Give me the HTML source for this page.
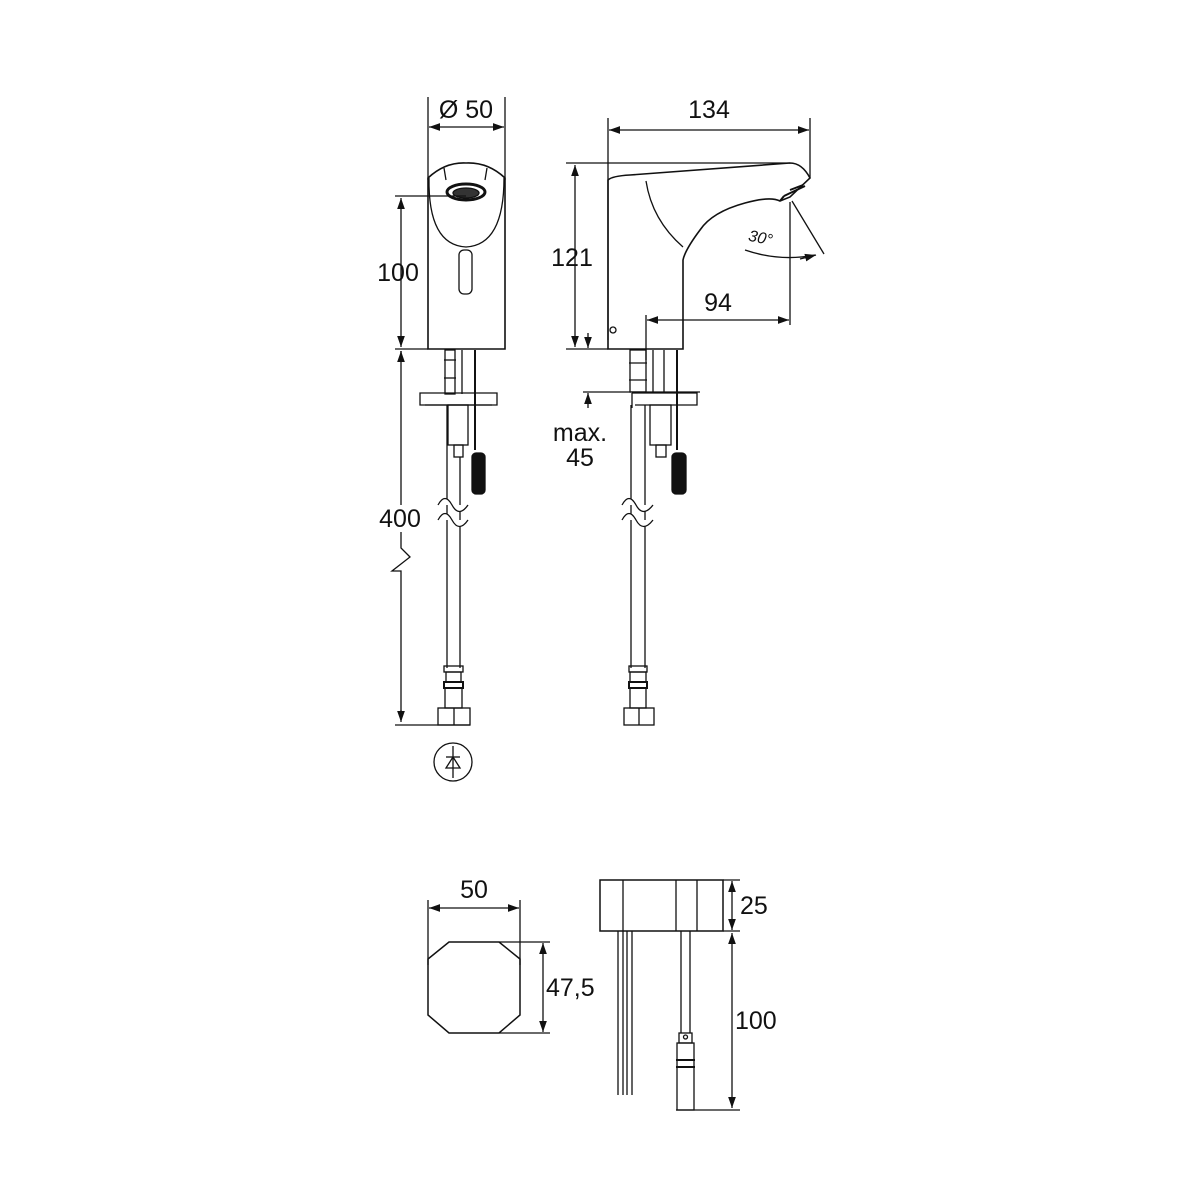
<!DOCTYPE html>
<html><head><meta charset="utf-8"><style>
html,body{margin:0;padding:0;background:#fff}
svg{display:block}
text{font-family:"Liberation Sans",sans-serif;fill:#111}
</style></head><body>
<svg width="1200" height="1200" viewBox="0 0 1200 1200" xmlns="http://www.w3.org/2000/svg">
<defs>
<marker id="a" viewBox="0 0 10 10" refX="10" refY="5" markerWidth="11" markerHeight="11" orient="auto-start-reverse" markerUnits="userSpaceOnUse"><path d="M0,1.5 L10,5 L0,8.5z" fill="#111"/></marker>
</defs>
<g stroke="#111" stroke-width="1.3" fill="none">
<!-- FRONT VIEW -->
<line x1="428" y1="97" x2="428" y2="180"/><line x1="505" y1="97" x2="505" y2="180"/>
<line x1="429" y1="127" x2="504" y2="127" marker-start="url(#a)" marker-end="url(#a)"/>
<path d="M428,349 L428,178 Q445,162 466,163 Q488,162 505,178 L505,349 Z" stroke-width="1.6"/>
<path d="M429,178 Q428,245 466,247 Q504,245 504,178"/>
<path d="M444,168 L446,180 M487,168 L485,180"/>
<ellipse cx="466" cy="192" rx="19" ry="8" stroke-width="3"/>
<ellipse cx="466" cy="193" rx="13" ry="5" fill="#333"/>
<rect x="459" y="250" width="13" height="44" rx="5"/>
<line x1="395" y1="196" x2="466" y2="196"/>
<line x1="395" y1="349" x2="428" y2="349"/>
<line x1="401" y1="198" x2="401" y2="347" marker-start="url(#a)" marker-end="url(#a)"/>
<path d="M401,351 L401,505 M401,532 L401,548 L410,557 L392,571 L401,571 L401,720" />
<line x1="401" y1="362" x2="401" y2="351" marker-end="url(#a)"/>
<line x1="401" y1="710" x2="401" y2="722" marker-end="url(#a)"/>
<line x1="395" y1="725" x2="470" y2="725"/>
<!-- pipes under front -->
<rect x="445" y="350" width="10" height="44"/>
<line x1="444" y1="360" x2="456" y2="360"/><line x1="444" y1="378" x2="456" y2="378"/>
<line x1="462" y1="350" x2="462" y2="394"/><line x1="475" y1="350" x2="475" y2="450" stroke-width="2"/>
<path d="M420,393 L497,393 L497,405 L420,405 Z"/>
<line x1="425" y1="405" x2="492" y2="405"/>
<rect x="448" y="405" width="20" height="40"/>
<rect x="454" y="445" width="9" height="12"/>
<rect x="472" y="453" width="13" height="41" rx="4" fill="#111"/>
<line x1="447" y1="405" x2="447" y2="668"/><line x1="460" y1="457" x2="460" y2="668"/>
<path d="M438,505 Q445,492 452,505 Q459,518 468,505 M438,520 Q445,507 452,520 Q459,533 468,520" fill="#fff"/>
<rect x="444" y="666" width="19" height="6"/>
<rect x="446" y="672" width="15" height="10"/>
<rect x="444" y="682" width="19" height="6" stroke-width="2"/>
<rect x="445" y="688" width="17" height="20"/>
<rect x="438" y="708" width="32" height="17"/><line x1="454" y1="708" x2="454" y2="725"/>
<circle cx="453" cy="762" r="19"/>
<line x1="453" y1="746" x2="453" y2="778"/>
<line x1="446" y1="757" x2="460" y2="757"/>
<path d="M446,768 L460,768 L453,757 Z"/>

<!-- SIDE VIEW -->
<line x1="608" y1="118" x2="608" y2="340"/><line x1="810" y1="118" x2="810" y2="178"/>
<line x1="609" y1="130" x2="809" y2="130" marker-start="url(#a)" marker-end="url(#a)"/>
<path d="M608,349 L608,180 Q612,176 630,175 L790,163 Q802,163 810,178 L790,197 L780,201 Q770,196 745,203 Q712,212 700,230 Q685,250 683,260 L683,349 Z" stroke-width="1.6"/>
<path d="M646,181 Q652,220 683,247"/>
<path d="M780,201 L784,196 M790,190 L803,185 M784,196 L805,186" stroke-width="2"/>
<line x1="566" y1="163" x2="790" y2="163"/>
<line x1="575" y1="165" x2="575" y2="347" marker-start="url(#a)" marker-end="url(#a)"/>
<line x1="566" y1="349" x2="608" y2="349"/>
<circle cx="613" cy="330" r="3"/>
<line x1="790" y1="202" x2="790" y2="325"/>
<line x1="646" y1="315" x2="646" y2="360"/>
<line x1="647" y1="320" x2="789" y2="320" marker-start="url(#a)" marker-end="url(#a)"/>
<line x1="792" y1="201" x2="824" y2="254"/>
<path d="M745,250 Q780,262 815,255" />
<line x1="800" y1="259" x2="816" y2="255" marker-end="url(#a)"/>
<line x1="588" y1="333" x2="588" y2="348" marker-end="url(#a)"/>
<line x1="588" y1="408" x2="588" y2="393" marker-end="url(#a)"/>
<line x1="583" y1="392" x2="700" y2="392"/>
<!-- side pipes -->
<rect x="630" y="350" width="16" height="42"/>
<line x1="629" y1="363" x2="647" y2="363"/><line x1="629" y1="380" x2="647" y2="380"/>
<line x1="653" y1="350" x2="653" y2="392"/><line x1="664" y1="350" x2="664" y2="392"/>
<line x1="677" y1="350" x2="677" y2="450" stroke-width="2"/>
<path d="M632,393 L697,393 L697,405 L635,405 M632,393 L632,408"/>
<rect x="650" y="405" width="21" height="40"/>
<rect x="656" y="445" width="10" height="12"/>
<rect x="672" y="453" width="14" height="41" rx="4" fill="#111"/>
<line x1="631" y1="405" x2="631" y2="668"/><line x1="645" y1="405" x2="645" y2="668"/>
<path d="M622,505 Q629,492 636,505 Q643,518 653,505 M622,520 Q629,507 636,520 Q643,533 653,520" fill="#fff"/>
<rect x="629" y="666" width="18" height="6"/>
<rect x="630" y="672" width="16" height="10"/>
<rect x="629" y="682" width="18" height="6" stroke-width="2"/>
<rect x="630" y="688" width="16" height="20"/>
<rect x="624" y="708" width="30" height="17"/><line x1="639" y1="708" x2="639" y2="725"/>

<!-- OCTAGON -->
<line x1="428" y1="900" x2="428" y2="965"/><line x1="520" y1="900" x2="520" y2="965"/>
<line x1="429" y1="908" x2="519" y2="908" marker-start="url(#a)" marker-end="url(#a)"/>
<path d="M449,942 L499,942 L520,959 L520,1015 L499,1033 L449,1033 L428,1015 L428,959 Z" stroke-width="1.5"/>
<line x1="499" y1="942" x2="550" y2="942"/><line x1="499" y1="1033" x2="550" y2="1033"/>
<line x1="543" y1="943" x2="543" y2="1032" marker-start="url(#a)" marker-end="url(#a)"/>

<!-- BOX -->
<rect x="600" y="880" width="123" height="51" stroke-width="1.5"/>
<line x1="623" y1="880" x2="623" y2="931"/><line x1="676" y1="880" x2="676" y2="931"/><line x1="697" y1="880" x2="697" y2="931"/>
<line x1="723" y1="880" x2="740" y2="880"/><line x1="723" y1="931" x2="740" y2="931"/>
<line x1="732" y1="881" x2="732" y2="930" marker-start="url(#a)" marker-end="url(#a)"/>
<line x1="732" y1="933" x2="732" y2="1108" marker-start="url(#a)" marker-end="url(#a)"/>
<line x1="676" y1="1110" x2="740" y2="1110"/>
<line x1="618" y1="931" x2="618" y2="1095"/><line x1="623" y1="931" x2="623" y2="1095"/>
<line x1="627" y1="931" x2="627" y2="1095"/><line x1="632" y1="931" x2="632" y2="1095"/>
<line x1="681" y1="931" x2="681" y2="1033"/><line x1="690" y1="931" x2="690" y2="1033"/>
<rect x="679" y="1033" width="13" height="10"/>
<circle cx="685.5" cy="1037" r="2"/>
<rect x="677" y="1043" width="17" height="67"/>
<line x1="676" y1="1060" x2="695" y2="1060" stroke-width="2"/><line x1="676" y1="1067" x2="695" y2="1067" stroke-width="2"/>
</g>
<g font-size="25">
<text x="466" y="118" text-anchor="middle">Ø 50</text>
<text x="398" y="281" text-anchor="middle">100</text>
<text x="400" y="527" text-anchor="middle">400</text>
<text x="709" y="118" text-anchor="middle">134</text>
<text x="572" y="266" text-anchor="middle">121</text>
<text x="718" y="311" text-anchor="middle">94</text>
<text x="580" y="441" text-anchor="middle">max.</text>
<text x="580" y="466" text-anchor="middle">45</text>
<text x="474" y="898" text-anchor="middle">50</text>
<text x="546" y="996">47,5</text>
<text x="740" y="914">25</text>
<text x="735" y="1029">100</text>
</g>
<text x="748" y="243" font-size="16" font-style="italic" transform="rotate(12 760 240)">30°</text>
</svg>
</body></html>
